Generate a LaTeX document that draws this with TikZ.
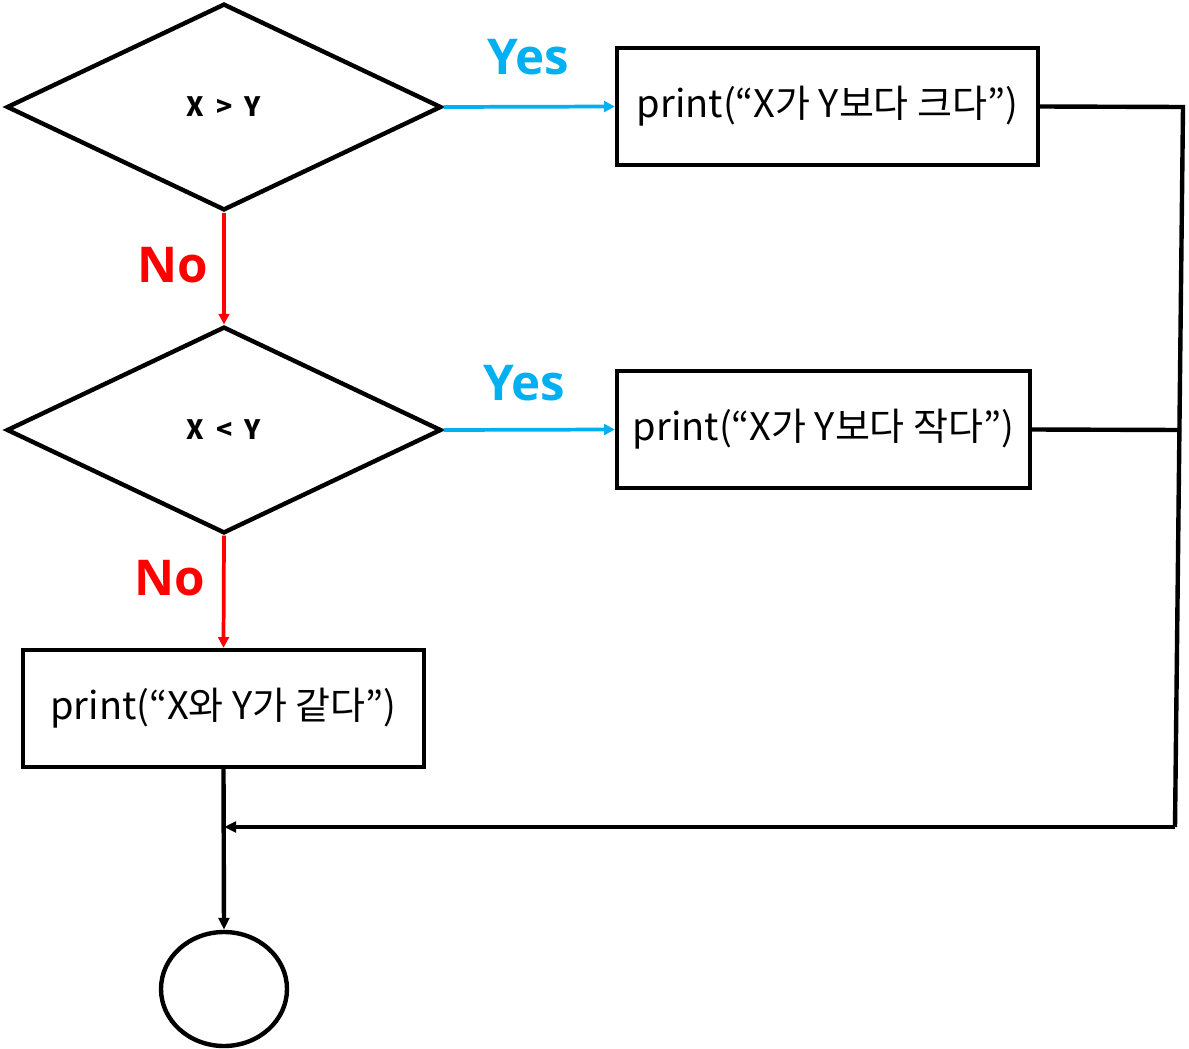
\documentclass[tikz,border=0pt]{standalone}
\usepackage{fontspec}
\setmainfont{Noto Sans CJK KR}
\newfontfamily\labfont{Open Sans}
\usetikzlibrary{shapes.geometric,arrows.meta}
\definecolor{yesblue}{RGB}{0,176,240}
\definecolor{nored}{RGB}{255,0,0}
\tikzset{
  thick line/.style={line width=3.3pt},
  dec/.style={draw,thick line,shape=diamond,aspect=2.1,minimum width=326pt,minimum height=155pt,inner sep=0pt,font=\fontsize{20}{24}\selectfont\bfseries},
  proc/.style={draw,thick line,rectangle,minimum height=87.75pt,inner sep=0pt,font=\fontsize{28.5}{32}\selectfont},
  yesarr/.style={draw=yesblue,line width=2.8pt,-{Triangle[length=8pt,width=8pt]}},
  noarr/.style={draw=nored,line width=2.8pt,-{Triangle[length=8pt,width=8pt]}},
  blkarr/.style={draw,thick line,-{Triangle[length=9pt,width=8pt]}},
  yeslab/.style={text=yesblue,font=\labfont\fontsize{37}{40}\selectfont\bfseries},
  nolab/.style={text=nored,font=\labfont\fontsize{37}{40}\selectfont\bfseries},
}
\begin{document}
\begin{tikzpicture}[x=0.75pt,y=-0.75pt]
\useasboundingbox (0,0) rectangle (1189,1049);
\node[dec] (d1) at (224,107) {X\ \ >\ \ Y};
\node[dec] (d2) at (224,430) {X\ \ <\ \ Y};
\node[proc,minimum width=315.75pt] (b1) at (827.5,106.5) {print(“X가 Y보다 크다”)};
\node[proc,minimum width=309.75pt] (b2) at (823.5,429.5) {print(“X가 Y보다 작다”)};
\node[proc,minimum width=300.75pt] (b3) at (223.5,708.5) {print(“X와 Y가 같다”)};
\node[draw,thick line,ellipse,minimum width=94.5pt,minimum height=85.5pt,inner sep=0pt] (end) at (224,989) {};
\coordinate (r1) at (1183,107);
\coordinate (r2) at (1175,827);
\coordinate (r3) at (1181,430);
\coordinate (m) at (224,827);
\draw[yesarr] (d1.east) -- (b1.west);
\draw[yesarr] (d2.east) -- (b2.west);
\draw[noarr] (d1.south) -- (d2.north);
\draw[noarr] (d2.south) -- (b3.north);
\draw[thick line] (b1.east) -- (r1) -- (r2);
\draw[thick line] (b2.east) -- (r3);
\draw[blkarr] (r2) -- (m);
\draw[blkarr] (b3.south) -- (end.north);
\node[yeslab] (y1) at (528,57) {Yes};
\node[yeslab] (y2) at (524,383) {Yes};
\node[nolab] (n1) at (173,265) {No};
\node[nolab] (n2) at (170,578) {No};
\end{tikzpicture}
\end{document}
